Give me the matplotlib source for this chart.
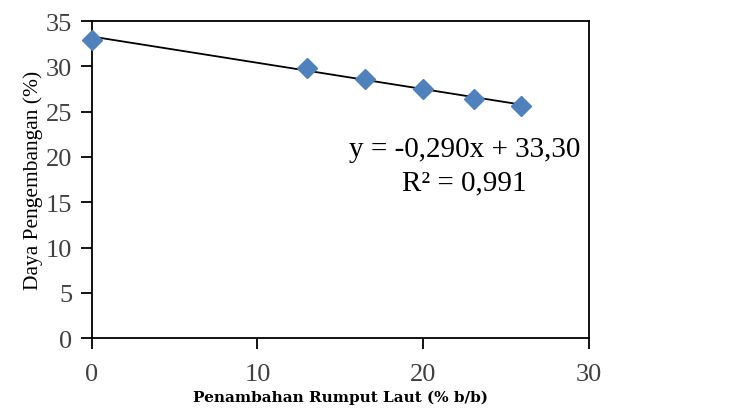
import numpy as np
import matplotlib.pyplot as plt

# data
rumput_laut = [0, 13, 16.5, 20, 23.1, 25.9]
daya_kembang = [32.9, 29.8, 28.6, 27.5, 26.4, 25.6]
slope, intercept = -0.290, 33.30
eq_text = "y = -0,290x + 33,30"
r2_text = "R² = 0,991"
xticks = [0, 10, 20, 30]
yticks = [0, 5, 10, 15, 20, 25, 30, 35]

plt.rcParams['font.family'] = ['Liberation Serif', 'DejaVu Serif']

fig = plt.figure(figsize=(7.34, 4.10), dpi=100)
ax = fig.add_axes([0.125, 0.173, 0.677, 0.773])

xl = np.array([rumput_laut[0], rumput_laut[-1]])
ax.plot(xl, slope * xl + intercept, color='black', lw=1.3, zorder=2)
ax.plot(rumput_laut, daya_kembang, linestyle='none', marker='D',
        markersize=10, color='#4F81BD', clip_on=False, zorder=3)

ax.set_xlim(0, 30)
ax.set_ylim(0, 35)
ax.set_xticks(xticks)
ax.set_yticks(yticks)
ax.tick_params(direction='out', length=8, width=1.3, labelsize=19,
               color='black', labelcolor='#404040')
ax.tick_params(axis='x', pad=10)
ax.tick_params(axis='y', pad=6)
for s in ax.spines.values():
    s.set_linewidth(1.3)

ax.text(0.75, 0.596, eq_text, transform=ax.transAxes, ha='center', va='center', fontsize=21)
ax.text(0.75, 0.49, r2_text, transform=ax.transAxes, ha='center', va='center', fontsize=21)

ax.set_xlabel("Penambahan Rumput Laut (% b/b)", fontsize=11, fontweight='bold',
              family='DejaVu Serif', labelpad=3)
ax.set_ylabel("Daya Pengembangan (%)", fontsize=15.5, labelpad=2)

fig.savefig("out.png", dpi=100)
